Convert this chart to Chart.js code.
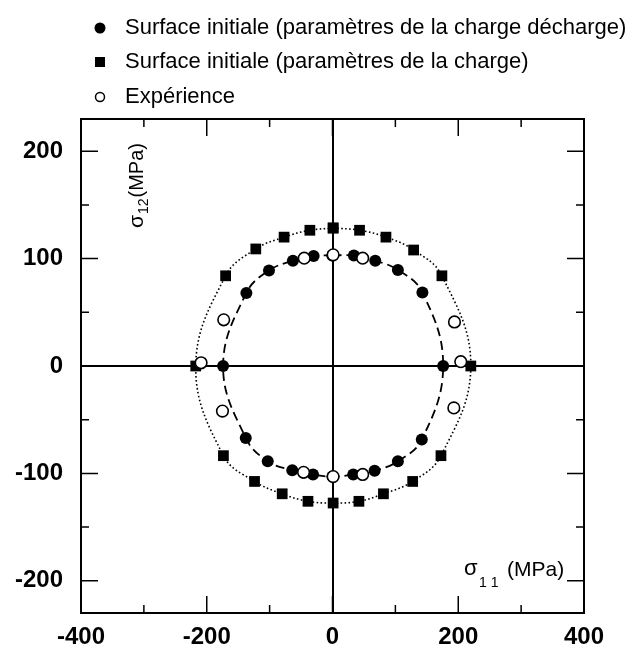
<!DOCTYPE html>
<html>
<head>
<meta charset="utf-8">
<script src="https://cdn.jsdelivr.net/npm/chart.js@4.4.1/dist/chart.umd.min.js"></script>
<style>
  html, body { margin: 0; padding: 0; background: #fff; }
</style>
</head>
<body>
<canvas id="myChart" width="635" height="651"></canvas>
<script>
const legendLabels = [
  'Surface initiale (paramètres de la charge décharge)',
  'Surface initiale (paramètres de la charge)',
  'Expérience'
];

const xTickLabels = [-400, -200, 0, 200, 400];
const xMinorTicks = [-300, -100, 100, 300];
const yTickLabels = [-200, -100, 0, 100, 200];
const yMinorTicks = [-150, -50, 50, 150];

// points listed going round each surface, starting at the top
const dechargeX = [0, 34, 68, 104, 143, 176, 142, 104, 67, 33, 0, -31, -64, -103, -138, -174, -137, -101, -63, -30];
const dechargeY = [103, 102.8, 98, 89.5, 68.5, 0, -68.5, -88.7, -97.5, -101, -103, -101, -97, -88.7, -67, 0, 68, 89, 98, 102.5];

const chargeX = [1, 43, 85, 129, 174, 220, 172.5, 127.5, 81, 42, 1, -39, -80, -124, -173.5, -217.5, -170, -122, -77, -36];
const chargeY = [128.5, 126.4, 120, 108, 84, 0, -83.5, -107.5, -119, -126, -127.6, -126, -119, -107.5, -83.5, 0, 84, 109, 120, 126.4];

const experX = [1, 48, 194, 204, 193, 48, 1, -46, -175, -209, -173, -45];
const experY = [103.5, 100.4, 41, 4, -39, -101, -103, -99, -42, 3, 43, 100.4];

const FONT = '"Liberation Sans", Arial, sans-serif';

function toPoints(xs, ys, closed) {
  const pts = xs.map((v, i) => ({ x: v, y: ys[i] }));
  if (closed) pts.push({ x: xs[0], y: ys[0] });
  return pts;
}

function zeroLine(c) {
  return c.tick && c.tick.value === 0 ? '#000' : 'rgba(0,0,0,0)';
}

const framePlugin = {
  id: 'frame',
  afterDatasetsDraw(chart) {
    const ctx = chart.ctx;
    const a = chart.chartArea;
    const x = chart.scales.x;
    const y = chart.scales.y;
    ctx.save();
    ctx.strokeStyle = '#000';
    ctx.lineWidth = 2;
    ctx.strokeRect(a.left, a.top, a.right - a.left, a.bottom - a.top);

    ctx.lineWidth = 1.5;
    ctx.beginPath();
    xTickLabels.concat(xMinorTicks).forEach(v => {
      const len = xTickLabels.includes(v) ? 17 : 8;
      const px = x.getPixelForValue(v);
      ctx.moveTo(px, a.bottom); ctx.lineTo(px, a.bottom - len);
      ctx.moveTo(px, a.top); ctx.lineTo(px, a.top + len);
    });
    yTickLabels.concat(yMinorTicks).forEach(v => {
      const len = yTickLabels.includes(v) ? 17 : 8;
      const py = y.getPixelForValue(v);
      ctx.moveTo(a.left, py); ctx.lineTo(a.left + len, py);
      ctx.moveTo(a.right, py); ctx.lineTo(a.right - len, py);
    });
    ctx.stroke();
    ctx.restore();
  },
  afterDraw(chart) {
    const ctx = chart.ctx;
    ctx.save();
    ctx.fillStyle = '#000';
    ctx.strokeStyle = '#000';

    // legend
    ctx.font = '19px ' + FONT;
    const w0 = ctx.measureText(legendLabels[0]).width;
    const size = Math.max(16, Math.min(22, 19 * 505 / w0));
    ctx.font = size + 'px ' + FONT;
    ctx.textBaseline = 'middle';
    const rows = [28, 62, 97];
    legendLabels.forEach((lab, i) => {
      const my = rows[i];
      ctx.fillText(lab, 125, my);
      ctx.beginPath();
      if (i === 0) {
        ctx.arc(100, my, 5.5, 0, Math.PI * 2);
        ctx.fill();
      } else if (i === 1) {
        ctx.fillRect(95, my - 5, 10, 10);
      } else {
        ctx.lineWidth = 1.5;
        ctx.arc(100, my, 4.5, 0, Math.PI * 2);
        ctx.stroke();
      }
    });

    // y axis title, inside the plot
    ctx.textBaseline = 'alphabetic';
    ctx.save();
    ctx.translate(143, 228);
    ctx.rotate(-Math.PI / 2);
    ctx.font = '21px ' + FONT;
    ctx.fillText('σ', 0, 0);
    let off = ctx.measureText('σ').width + 1;
    ctx.font = '14px ' + FONT;
    ctx.fillText('12', off, 5);
    off += ctx.measureText('12').width + 1;
    ctx.font = '20px ' + FONT;
    ctx.fillText('(MPa)', off, 0);
    ctx.restore();

    // x axis title, inside the plot
    ctx.font = '22px ' + FONT;
    ctx.fillText('σ', 464, 575);
    ctx.font = '14px ' + FONT;
    ctx.fillText('1 1', 479, 587);
    ctx.font = '21px ' + FONT;
    ctx.fillText('(MPa)', 507, 576);
    ctx.restore();
  }
};

new Chart(document.getElementById('myChart'), {
  type: 'scatter',
  data: {
    datasets: [{
      label: legendLabels[2],
      data: toPoints(experX, experY, false),
      pointStyle: 'circle',
      pointRadius: 5.8,
      pointBackgroundColor: '#fff',
      pointBorderColor: '#000',
      pointBorderWidth: 1.6,
      showLine: false,
      order: 0
    }, {
      label: legendLabels[0],
      data: toPoints(dechargeX, dechargeY, true),
      pointStyle: 'circle',
      pointRadius: 6,
      pointBackgroundColor: '#000',
      pointBorderColor: '#000',
      pointBorderWidth: 0,
      showLine: true,
      borderColor: '#000',
      borderWidth: 1.8,
      borderDash: [9, 5],
      tension: 0.4,
      order: 1
    }, {
      label: legendLabels[1],
      data: toPoints(chargeX, chargeY, true),
      pointStyle: 'rect',
      pointRadius: 7.6,
      pointBackgroundColor: '#000',
      pointBorderColor: '#000',
      pointBorderWidth: 0,
      showLine: true,
      borderColor: '#000',
      borderWidth: 1.6,
      borderDash: [1.6, 2.4],
      tension: 0.4,
      order: 2
    }]
  },
  options: {
    responsive: false,
    animation: false,
    layout: {
      padding: { top: 119, right: 51, left: 0, bottom: 0 }
    },
    plugins: {
      legend: { display: false },
      tooltip: { enabled: false }
    },
    scales: {
      x: {
        type: 'linear',
        position: 'bottom',
        min: -400,
        max: 400,
        afterBuildTicks: s => { s.ticks = xTickLabels.map(v => ({ value: v })); },
        afterFit: s => { s.height = 38; },
        ticks: {
          color: '#000',
          padding: 10,
          font: { family: FONT, size: 24, weight: 'bold' }
        },
        grid: { color: zeroLine, lineWidth: 2, drawTicks: false },
        border: { display: true, color: '#000', width: 2 }
      },
      y: {
        type: 'linear',
        position: 'left',
        min: -230,
        max: 230,
        afterBuildTicks: s => { s.ticks = yTickLabels.map(v => ({ value: v })); },
        afterFit: s => { s.width = 81; },
        ticks: {
          color: '#000',
          padding: 18,
          font: { family: FONT, size: 24, weight: 'bold' }
        },
        grid: { color: zeroLine, lineWidth: 2, drawTicks: false },
        border: { display: true, color: '#000', width: 2 }
      }
    }
  },
  plugins: [framePlugin]
});
</script>
</body>
</html>
